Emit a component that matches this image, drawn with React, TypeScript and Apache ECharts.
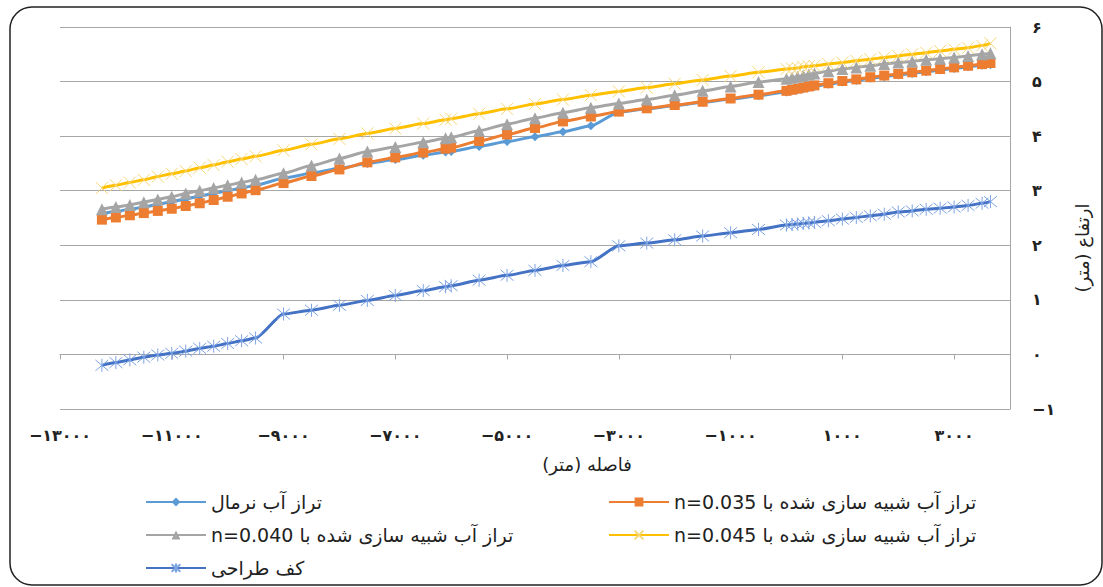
import React, { useEffect, useRef } from "react";
import * as echarts from "echarts";

// Station positions along the channel (m)
const distance = [
  -12250, -12000, -11750, -11500, -11250, -11000, -10750, -10500, -10250, -10000, -9750, -9500,
  -9000, -8500, -8000, -7500, -7000, -6500, -6100, -6000, -5500, -5000, -4500, -4000, -3500, -3000,
  -2500, -2000, -1500, -1000, -500, 0,
  100, 200, 300, 400, 500,
  750, 1000, 1250, 1500, 1750, 2000, 2250, 2500, 2750, 3000, 3250, 3500, 3650,
];

// Normal water level (m)
const normalLevel = [
  2.58, 2.62, 2.66, 2.7, 2.75, 2.8, 2.85, 2.9, 2.95, 3.0, 3.05, 3.1,
  3.23, 3.32, 3.41, 3.5, 3.57, 3.65, 3.71, 3.72, 3.81, 3.9, 3.99, 4.08, 4.19, 4.44,
  4.5, 4.56, 4.62, 4.68, 4.74, 4.81,
  4.83, 4.85, 4.87, 4.89, 4.91,
  4.95, 4.99, 5.02, 5.06, 5.09, 5.12, 5.15, 5.18, 5.21, 5.24, 5.27, 5.3, 5.31,
];

// Simulated water level, n = 0.035
const level035 = [
  2.47, 2.51, 2.55, 2.59, 2.63, 2.67, 2.72, 2.77, 2.83, 2.89, 2.95, 3.01,
  3.14, 3.27, 3.39, 3.52, 3.61, 3.7, 3.77, 3.79, 3.91, 4.03, 4.15, 4.27, 4.36, 4.45,
  4.51, 4.57, 4.63, 4.69, 4.76, 4.83,
  4.85, 4.87, 4.89, 4.91, 4.93,
  4.97, 5.01, 5.04, 5.08, 5.11, 5.14, 5.17, 5.2, 5.23, 5.26, 5.29, 5.32, 5.34,
];

// Simulated water level, n = 0.040
const level040 = [
  2.66, 2.7, 2.74, 2.79, 2.84, 2.89, 2.95, 3.0, 3.05, 3.1, 3.15, 3.2,
  3.32, 3.46, 3.59, 3.72, 3.8, 3.89, 3.96, 3.98, 4.1, 4.22, 4.33, 4.43, 4.52, 4.6,
  4.67, 4.75, 4.83, 4.91, 4.99, 5.05,
  5.07, 5.09, 5.11, 5.13, 5.15,
  5.19, 5.23, 5.26, 5.29, 5.32, 5.35, 5.37, 5.4, 5.42, 5.44, 5.47, 5.5, 5.52,
];

// Simulated water level, n = 0.045
const level045 = [
  3.05, 3.1, 3.15, 3.2, 3.26, 3.31, 3.36, 3.42, 3.47, 3.53, 3.58, 3.63,
  3.74, 3.85, 3.95, 4.05, 4.14, 4.23, 4.3, 4.32, 4.41, 4.5, 4.59, 4.67, 4.75, 4.82,
  4.89, 4.96, 5.03, 5.1, 5.17, 5.23,
  5.24, 5.25, 5.27, 5.28, 5.29,
  5.32, 5.35, 5.38, 5.41, 5.44, 5.47, 5.5, 5.53, 5.56, 5.59, 5.62, 5.66, 5.7,
];

// Design bed level (m)
const bedLevel = [
  -0.2, -0.15, -0.1, -0.05, -0.01, 0.02, 0.06, 0.11, 0.15, 0.2, 0.25, 0.3,
  0.74, 0.81, 0.9, 0.99, 1.08, 1.17, 1.24, 1.26, 1.36, 1.45, 1.54, 1.63, 1.7, 1.99,
  2.04, 2.1, 2.17, 2.23, 2.29, 2.37,
  2.38, 2.39, 2.4, 2.41, 2.42,
  2.45, 2.48, 2.51, 2.54, 2.57, 2.61, 2.63, 2.66, 2.68, 2.7, 2.73, 2.77, 2.8,
];

// Series names (RTL embedding keeps "n=..." on the left of the Persian phrase)
const RLE = "\u202B";
const PDF = "\u202C";
const nameNormal = "تراز آب نرمال";
const name035 = RLE + "تراز آب شبیه سازی شده با n=0.035" + PDF;
const name040 = RLE + "تراز آب شبیه سازی شده با n=0.040" + PDF;
const name045 = RLE + "تراز آب شبیه سازی شده با n=0.045" + PDF;
const nameBed = "کف طراحی";

const xTitle = "فاصله (متر)\u200F";
const yTitle = "ارتفاع (متر)\u200F";

const xMin = -13000;
const xMax = 4000;
const xStep = 2000;
const yMin = -1;
const yMax = 6;

const FA = "'DejaVu Sans', sans-serif";

const faDigits = (v: number) =>
  String(Math.abs(v)).replace(/\d/g, (d) => "۰۱۲۳۴۵۶۷۸۹"[+d]);
const faNumber = (v: number) => (v < 0 ? "−" : "") + faDigits(v);

const pairs = (ys: number[]) => distance.map((x, i) => [x, ys[i]]);

const CROSS = "path://M0,0L10,10M10,0L0,10";
const STAR = "path://M0,0L10,10M10,0L0,10M5,-1L5,11";

export default function App() {
  const ref = useRef<HTMLDivElement>(null);

  useEffect(() => {
    if (!ref.current) return;
    const chart = echarts.init(ref.current, undefined, { renderer: "svg" });

    const lineSeries = (
      name: string,
      ys: number[],
      color: string,
      symbol: string,
      symbolSize: number,
      markerColor: string,
      markerBorder: number,
      z: number
    ) => ({
      type: "line",
      name,
      data: pairs(ys),
      smooth: 0.2,
      smoothMonotone: "x",
      symbol,
      symbolSize,
      showSymbol: true,
      z,
      lineStyle: { color, width: 3 },
      itemStyle: {
        color: markerColor,
        borderColor: markerColor,
        borderWidth: markerBorder,
      },
      emphasis: { disabled: true },
    });

    const legendText = { fontFamily: FA, fontSize: 19, color: "#222", lineHeight: 22 };

    chart.setOption({
      animation: false,
      backgroundColor: "#ffffff",
      grid: { left: 60, right: 93, top: 27, bottom: 178, containLabel: false },
      xAxis: {
        type: "value",
        min: xMin,
        max: xMax,
        interval: xStep,
        axisLine: { show: true, lineStyle: { color: "#a6a6a6", width: 1 } },
        axisTick: { show: true, inside: false, length: 5, lineStyle: { color: "#a6a6a6" } },
        axisLabel: {
          showMaxLabel: false,
          margin: 18,
          color: "#222",
          fontFamily: FA,
          fontSize: 16,
          fontWeight: "bold",
          formatter: (v: number) => faNumber(v),
        },
        splitLine: { show: false },
      },
      yAxis: {
        type: "value",
        position: "right",
        min: yMin,
        max: yMax,
        interval: 1,
        axisLine: { show: true, onZero: false, lineStyle: { color: "#a6a6a6", width: 1 } },
        axisTick: { show: false },
        axisLabel: {
          margin: 22,
          color: "#222",
          fontFamily: FA,
          fontSize: 16,
          fontWeight: "bold",
          formatter: (v: number) => faNumber(v),
        },
        splitLine: { show: true, lineStyle: { color: "#a6a6a6", width: 1 } },
      },
      legend: [
        {
          orient: "vertical",
          left: 140,
          top: 486,
          itemWidth: 60,
          itemHeight: 11,
          itemGap: 11,
          data: [nameNormal, name040, nameBed],
          textStyle: legendText,
        },
        {
          orient: "vertical",
          left: 603,
          top: 486,
          itemWidth: 60,
          itemHeight: 11,
          itemGap: 11,
          data: [name035, name045],
          textStyle: legendText,
        },
      ],
      graphic: [
        {
          type: "rect",
          shape: { x: 10, y: 7, width: 1092, height: 578, r: 22 },
          style: { fill: "none", stroke: "#222", lineWidth: 1.5 },
          silent: true,
          z: 100,
        },
        {
          type: "text",
          x: 587,
          y: 464,
          style: {
            text: xTitle,
            font: `18px ${FA}`,
            fill: "#222",
            align: "center",
            verticalAlign: "middle",
            textAlign: "center",
            textVerticalAlign: "middle",
          },
        },
        {
          type: "text",
          x: 1082,
          y: 248,
          rotation: Math.PI / 2,
          style: {
            text: yTitle,
            font: `18px ${FA}`,
            fill: "#222",
            align: "center",
            verticalAlign: "middle",
            textAlign: "center",
            textVerticalAlign: "middle",
          },
        },
      ],
      series: [
        lineSeries(nameNormal, normalLevel, "#5B9BD5", "diamond", 9, "#5B9BD5", 0, 2),
        lineSeries(name035, level035, "#ED7D31", "rect", 10, "#ED7D31", 0, 3),
        lineSeries(name040, level040, "#A5A5A5", "triangle", 12, "#A5A5A5", 0, 4),
        lineSeries(name045, level045, "#FFC000", CROSS, 12, "#F7D675", 1, 5),
        lineSeries(nameBed, bedLevel, "#4472C4", STAR, 13, "#7EA4E4", 1, 6),
      ],
    });

    return () => chart.dispose();
  }, []);

  return (
    <div
      ref={ref}
      style={{ position: "fixed", left: 0, top: 0, width: 1103, height: 587, background: "#fff" }}
    />
  );
}
